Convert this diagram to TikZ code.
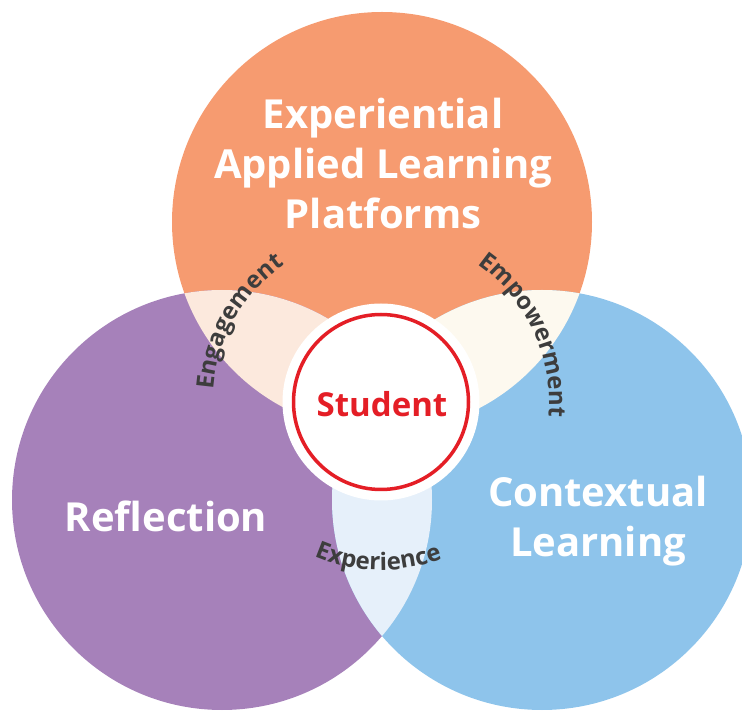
\documentclass[tikz,border=0pt]{standalone}
\usepackage{fontspec}
\setmainfont{Open Sans}
\usetikzlibrary{decorations.text,calc}
\definecolor{platformorange}{RGB}{246,155,112}
\definecolor{reflectpurple}{RGB}{166,129,186}
\definecolor{contextblue}{RGB}{142,196,235}
\definecolor{engagepeach}{RGB}{252,233,221}
\definecolor{empowercream}{RGB}{253,249,239}
\definecolor{experiencesky}{RGB}{230,240,250}
\definecolor{studentred}{RGB}{228,30,38}
\definecolor{labelgray}{RGB}{61,61,61}
\tikzset{
  bigtitle/.style={text=white, font=\bfseries\fontsize{40}{50}\selectfont, align=center},
  arclabel/.style={decorate, decoration={text along path, text align=center,
      text={|\bfseries\fontsize{24}{24}\selectfont\color{labelgray}|#1}}}
}
\begin{document}
\begin{tikzpicture}[x=1pt,y=1pt]
  \useasboundingbox (0,0) rectangle (742,710);
  \clip (0,0) rectangle (742,710);

  \coordinate (platforms) at (382,488);
  \coordinate (reflection) at (222,210);
  \coordinate (contextual) at (542,210);
  \coordinate (student) at (381,308);

  \fill[platformorange] (platforms) circle[radius=210];
  \fill[reflectpurple] (reflection) circle[radius=210];
  \fill[contextblue] (contextual) circle[radius=210];
  \begin{scope}
    \clip (platforms) circle[radius=210];
    \fill[engagepeach] (reflection) circle[radius=210];
    \fill[empowercream] (contextual) circle[radius=210];
  \end{scope}
  \begin{scope}
    \clip (reflection) circle[radius=210];
    \fill[experiencesky] (contextual) circle[radius=210];
  \end{scope}

  \fill[white] (student) circle[radius=98.5];
  \draw[studentred, line width=3.5] (student) circle[radius=87.5];

  \node[bigtitle] (platformstext) at (383,546) {Experiential\\Applied Learning\\Platforms};
  \node[bigtitle, anchor=base] (reflectiontext) at (166,178) {Reflection};
  \node[bigtitle] (contextualtext) at (598,189) {Contextual\\Learning};
  \node[text=studentred, font=\bfseries\fontsize{33}{33}\selectfont, anchor=base] (studenttext) at (382,293) {Student};

  \path[arclabel=Engagement] ($(student)+(195:168)$) arc[start angle=195, end angle=106, radius=168];
  \path[arclabel=Empowerment] ($(student)+(72:168)$) arc[start angle=72, end angle=-22, radius=168];
  \path[arclabel=Experience] ($(student)+(224:168)$) arc[start angle=224, end angle=314, radius=168];
\end{tikzpicture}
\end{document}
